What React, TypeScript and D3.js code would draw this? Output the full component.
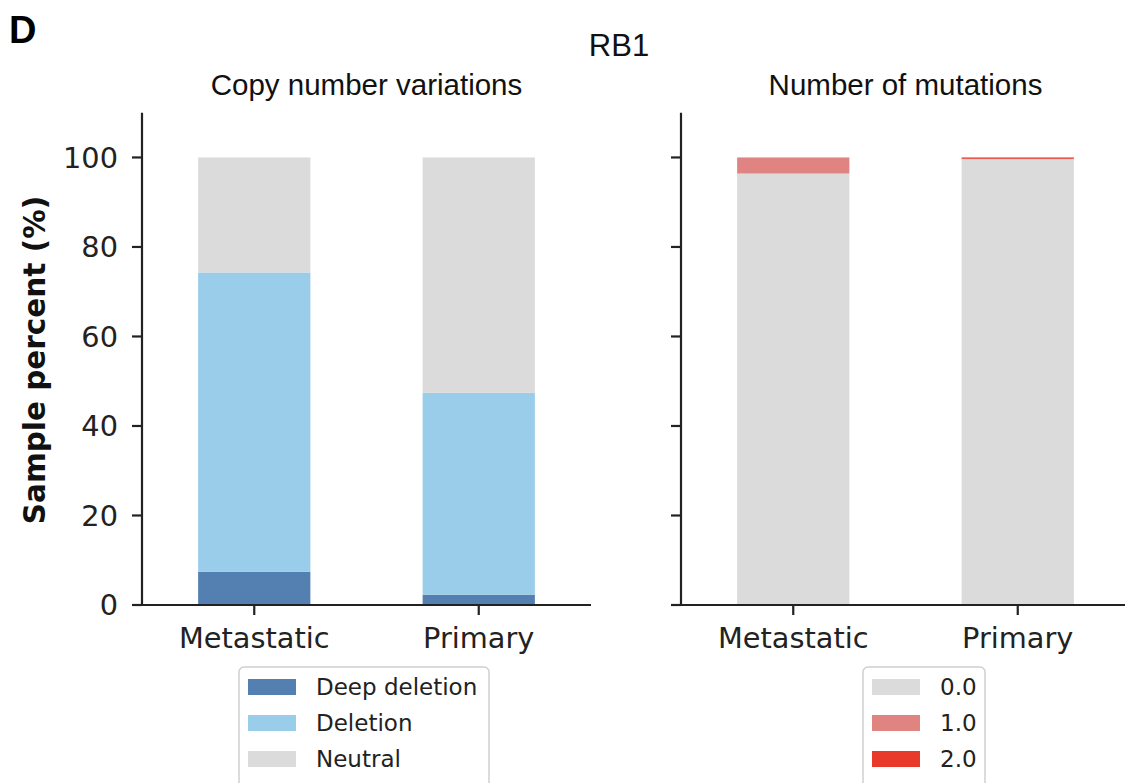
import React from "react";
import * as d3 from "d3";

const categories = ["Metastatic", "Primary"];
const cnvKeys = ["Deep deletion", "Deletion", "Neutral"];
const cnvDeep = [7.4, 2.3];
const cnvDel = [66.9, 45.1];
const cnvNeutral = [25.7, 52.6];
const mutKeys = ["0.0", "1.0", "2.0"];
const mut0 = [96.4, 99.6];
const mut1 = [3.6, 0.1];
const mut2 = [0.0, 0.3];
const yTicks = [0, 20, 40, 60, 80, 100];

const cnvColors = ["#5480b1", "#99cde9", "#dbdbdb"];
const mutColors = ["#dbdbdb", "#e08481", "#e8392a"];

const W = 1125;
const H = 783;
const y = d3.scaleLinear().domain([0, 110]).range([605, 112.7]);
const tickFont = "DejaVu Sans, sans-serif";
const titleFont = "Liberation Sans, Arial, sans-serif";

function Panel({ x0, x1, series, colors, title, showLabels }: any) {
  const x = d3.scaleBand<string>().domain(categories).range([x0, x1]).paddingInner(0.5).paddingOuter(0.25);
  const stackData = categories.map((c, i) => {
    const o: any = { cat: c };
    series.forEach((s: number[], k: number) => (o[k] = s[i]));
    return o;
  });
  const stack = d3.stack<any>().keys(series.map((_: any, k: number) => String(k)))(stackData);
  return (
    <g>
      {stack.map((layer, k) => (
        <g key={k} fill={colors[k]}>
          {layer.map((d, i) => (
            <rect key={i} x={x(categories[i])} width={x.bandwidth()} y={y(d[1])} height={Math.max(0, y(d[0]) - y(d[1]))} />
          ))}
        </g>
      ))}
      <line x1={x0} x2={x0} y1={y(110)} y2={y(0) + 1} stroke="#222" strokeWidth={2.2} />
      <line x1={x0 - 1} x2={x1} y1={y(0)} y2={y(0)} stroke="#222" strokeWidth={2.2} />
      {yTicks.map((t) => (
        <g key={t}>
          <line x1={x0 - 10} x2={x0} y1={y(t)} y2={y(t)} stroke="#222" strokeWidth={2.2} />
          {showLabels && (
            <text x={x0 - 24} y={y(t)} dy="0.35em" textAnchor="end" fontFamily={tickFont} fontSize={28.8} fill="#222">
              {t}
            </text>
          )}
        </g>
      ))}
      {categories.map((c) => (
        <g key={c}>
          <line x1={x(c)! + x.bandwidth() / 2} x2={x(c)! + x.bandwidth() / 2} y1={y(0)} y2={y(0) + 10} stroke="#222" strokeWidth={2.2} />
          <text x={x(c)! + x.bandwidth() / 2} y={y(0) + 33} dy="0.35em" textAnchor="middle" fontFamily={tickFont} fontSize={28.8} fill="#222">
            {c}
          </text>
        </g>
      ))}
      <text x={(x0 + x1) / 2} y={85} dy="0.35em" textAnchor="middle" fontFamily={titleFont} fontSize={29.5} fill="#111">
        {title}
      </text>
    </g>
  );
}

function Legend({ x, w, keys, colors }: any) {
  return (
    <g>
      <rect x={x} y={667} width={w} height={130} rx={5} fill="#fff" stroke="#d0d0d0" strokeWidth={1.5} />
      {keys.map((k: string, i: number) => (
        <g key={k}>
          <rect x={x + 9} y={679 + i * 36} width={48} height={16} fill={colors[i]} />
          <text x={x + 77} y={687 + i * 36} dy="0.35em" fontFamily={tickFont} fontSize={23} fill="#222">
            {k}
          </text>
        </g>
      ))}
    </g>
  );
}

export default function App() {
  return (
    <svg width={W} height={H} style={{ position: "absolute", left: 0, top: 0, background: "#fff" }}>
      <rect width={W} height={H} fill="#fff" />
      <text x={9} y={30} dy="0.35em" fontFamily={titleFont} fontWeight="bold" fontSize={38} fill="#000">D</text>
      <text x={619} y={45} dy="0.35em" textAnchor="middle" fontFamily={titleFont} fontSize={31} fill="#111">RB1</text>
      <text transform="translate(35,360) rotate(-90)" dy="0.35em" textAnchor="middle" fontFamily={tickFont} fontWeight="bold" fontSize={29.5} fill="#111">
        Sample percent (%)
      </text>
      <Panel x0={142} x1={591} series={[cnvDeep, cnvDel, cnvNeutral]} colors={cnvColors} title="Copy number variations" showLabels={true} />
      <Panel x0={681} x1={1130} series={[mut0, mut1, mut2]} colors={mutColors} title="Number of mutations" showLabels={false} />
      <Legend x={239} w={250} keys={cnvKeys} colors={cnvColors} />
      <Legend x={863} w={122} keys={mutKeys} colors={mutColors} />
    </svg>
  );
}
